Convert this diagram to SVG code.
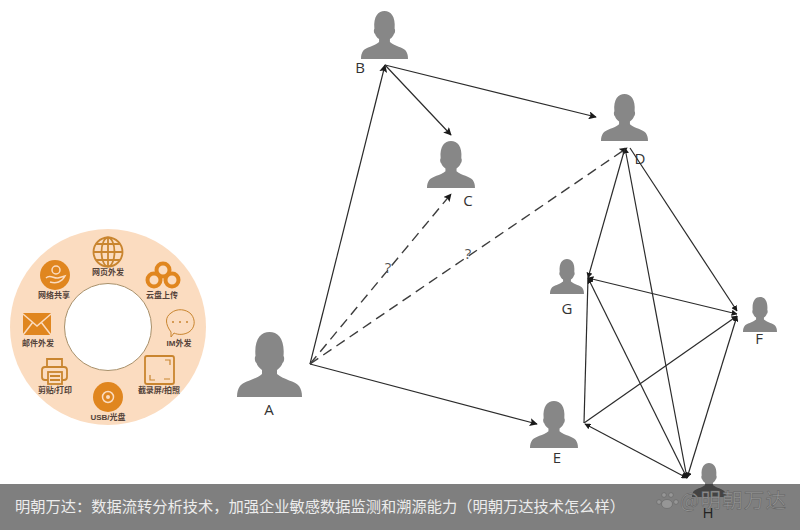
<svg xmlns="http://www.w3.org/2000/svg" width="800" height="530" viewBox="0 0 800 530">
<style>
.l{font-family:"Open Sans","Liberation Sans",sans-serif;font-size:15px;fill:#333;text-anchor:middle}
.c{fill:none;stroke:#2b2b2b;stroke-width:1.2}
.d{stroke:#3d3d3d;stroke-width:1.4;stroke-dasharray:10 6}
.r{font-family:"Liberation Sans","Noto Sans CJK SC",sans-serif;font-size:8px;font-weight:700;fill:#54433a;text-anchor:middle}
.o{fill:#e0861f}
.s{fill:none;stroke:#c9852f;stroke-width:1.8}
.w{fill:none;stroke:#fbdcc0;stroke-width:1.5}
</style>
<defs>
<marker id="a" viewBox="0 0 10 10" refX="9" refY="5" markerWidth="8" markerHeight="8" markerUnits="userSpaceOnUse" orient="auto"><path d="M0 0L10 5L0 10L2 5Z" fill="#1a1a1a"/></marker>
<marker id="b" viewBox="0 0 10 10" refX="9" refY="5" markerWidth="6" markerHeight="6" markerUnits="userSpaceOnUse" orient="auto-start-reverse"><path d="M0 0L10 5L0 10Z" fill="#1a1a1a"/></marker>
<path id="p" fill="#878787" d="M0 65C0 60 1 57 3 54C7 49 18 48 25 42V38C22 36 20 33 19.500 31C17.500 30 17.500 25 18.500 24C17 7 24 0 32.500 0C41 0 48 7 46.500 24C47.500 25 47.500 30 45.500 31C45 33 43 36 40 38V42C47 48 58 49 62 54C64 57 65 60 65 65Z"/>
</defs>
<rect width="800" height="530" fill="#fff"/>
<g id="ring">
<circle cx="108" cy="327" r="98" fill="#fbdcc0"/>
<circle cx="108" cy="327" r="43.500" fill="#fff" stroke="#a8906a" stroke-width="1"/>
<g class="s"><circle cx="108" cy="252" r="14.500"/><ellipse cx="108" cy="252" rx="6.500" ry="14.500"/><path d="M108 237.500V266.500M93.500 252H122.500M96 244H120M96 260H120"/></g>
<circle class="o" cx="55" cy="275" r="15"/><circle class="w" cx="56" cy="270" r="4"/><path class="w" d="M46 278C50 274 54 279 58 278L65 276C62 282 56 284 50 282"/>
<g fill="none" stroke="#e0861f" stroke-width="4"><circle cx="163" cy="270" r="6.500"/><circle cx="154" cy="280" r="6.500"/><circle cx="172" cy="280" r="6.500"/></g>
<rect class="o" x="23" y="313" width="28" height="22" rx="1"/><path class="w" d="M23 314L37 326L51 314M23 335L33 322M51 335L41 322"/>
<path class="s" d="M171 332C165 324 165 317 171 313C177 308 186 309 191 314C196 320 195 328 189 332C184 335 178 335 174 333L171 337Z" style="stroke-width:1"/><g fill="#c9852f"><circle cx="173" cy="322" r="1"/><circle cx="180" cy="322" r="1"/><circle cx="187" cy="322" r="1"/></g>
<g class="s"><path d="M47 367V359H62V367"/><rect x="42" y="367" width="25" height="13" rx="3"/><rect x="48" y="372" width="14" height="12" fill="#fbdcc0"/><path d="M50 376H60M50 380H60"/></g>
<g class="s"><rect x="145" y="356" width="29" height="28" rx="2"/><path d="M165 360H170V365M150 375V380H155M164 379H170" stroke-width="1.200"/></g>
<circle class="o" cx="108" cy="397" r="15"/><circle class="w" cx="108" cy="397" r="5.500" stroke-width="2"/><circle cx="108" cy="397" r="2" fill="#fbdcc0"/>
<text class="r" x="108" y="275">网页外发</text>
<text class="r" x="54" y="298">网络共享</text>
<text class="r" x="162" y="298">云盘上传</text>
<text class="r" x="38" y="346">邮件外发</text>
<text class="r" x="179" y="346">IM外发</text>
<text class="r" x="55" y="393">剪贴/打印</text>
<text class="r" x="159" y="393">截录屏/拍照</text>
<text class="r" x="108" y="420">USB/光盘</text>
</g>
<g id="connectors">
<path class="c" d="M310 364L385 65" marker-end="url(#a)"/>
<path class="c" d="M385 65L596 117" marker-end="url(#a)"/>
<path class="c" d="M385 65L451 135" marker-end="url(#a)"/>
<path class="c d" d="M310 364L451 194" marker-end="url(#a)"/>
<path class="c d" d="M310 364L627 148" marker-end="url(#a)"/>
<path class="c" d="M310 364L537 424" marker-end="url(#a)"/>
<path class="c" d="M625 148L687 478" marker-start="url(#b)" marker-end="url(#b)"/>
<path class="c" d="M630 148L737 311" marker-end="url(#b)"/>
<path class="c" d="M625 148L588 278" marker-end="url(#b)"/>
<path class="c" d="M588 278L737 314" marker-start="url(#b)" marker-end="url(#b)"/>
<path class="c" d="M584 423L588 278"/>
<path class="c" d="M588 278L687 478" marker-start="url(#b)" marker-end="url(#b)"/>
<path class="c" d="M584 423L737 316" marker-end="url(#b)"/>
<path class="c" d="M585 424L687 478" marker-start="url(#b)" marker-end="url(#b)"/>
<path class="c" d="M687 478L737 316" marker-start="url(#b)" marker-end="url(#b)"/>
</g>
<text class="l" x="388" y="273" style="fill:#555">?</text>
<text class="l" x="468" y="259" style="fill:#555">?</text>
<g id="A"><use href="#p" transform="translate(237 332)"/><text class="l" x="269" y="415">A</text></g>
<g id="B"><use href="#p" transform="translate(361 11) scale(.723 .738)"/><text class="l" x="360" y="73">B</text></g>
<g id="C"><use href="#p" transform="translate(427 141) scale(.738 .723)"/><text class="l" x="468" y="206">C</text></g>
<g id="D"><use href="#p" transform="translate(601 94) scale(.723 .723)"/><text class="l" x="640" y="164">D</text></g>
<g id="E"><use href="#p" transform="translate(530 401) scale(.738 .723)"/><text class="l" x="557" y="463">E</text></g>
<g id="F"><use href="#p" transform="translate(743 297) scale(.523 .538)"/><text class="l" x="759" y="344">F</text></g>
<g id="G"><use href="#p" transform="translate(550 259) scale(.523 .538)"/><text class="l" x="567" y="314">G</text></g>
<g id="H"><use href="#p" transform="translate(692 463) scale(.523 .523)"/></g>
<rect id="bar" x="0" y="484" width="800" height="46" fill="#000" fill-opacity=".5"/>
<text class="l" x="708" y="518" style="fill:#222">H</text>
<text x="15" y="512" font-family="'Noto Sans CJK SC',sans-serif" font-size="15.250" fill="#ececec">明朝万达：数据流转分析技术，加强企业敏感数据监测和溯源能力（明朝万达技术怎么样）</text>
<g id="watermark" fill="#969696" stroke="#5f5f5f" stroke-width=".5">
<ellipse cx="667" cy="504" rx="5.500" ry="4.500"/><circle cx="659" cy="502" r="2.300"/><circle cx="664" cy="495" r="2.300"/><circle cx="671" cy="495" r="2.300"/><circle cx="676" cy="502" r="2.300"/>
<text x="680" y="508" font-family="'Noto Sans CJK SC',sans-serif" font-size="20.500" textLength="106">@明朝万达</text>
</g>
</svg>
